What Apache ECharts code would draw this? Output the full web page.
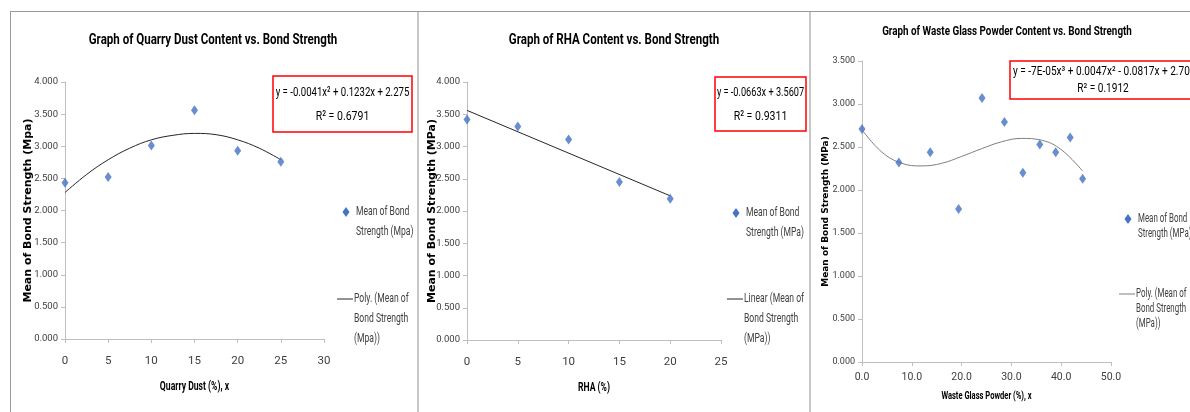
<!DOCTYPE html>
<html>
<head>
<meta charset="utf-8">
<title>Bond Strength graphs</title>
<script src="https://cdn.jsdelivr.net/npm/echarts@6/dist/echarts.min.js"></script>
<style>
    html, body { margin: 0; padding: 0; background: #ffffff; }
    #chart { width: 1190px; height: 412px; }
</style>
</head>
<body>
<div id="chart"></div>
<script>
// ============================================
// 数据
// ============================================
// 1. Quarry Dust
const qdX = [0, 5, 10, 15, 20, 25];
const qdY = [2.43, 2.52, 3.01, 3.56, 2.93, 2.76];
const qdFitX = [0, 2.5, 5, 7.5, 10, 12.5, 15, 17.5, 20, 22.5, 25];
const qdFitY = [2.28, 2.56, 2.79, 2.97, 3.10, 3.17, 3.20, 3.18, 3.10, 2.97, 2.79];

// 2. RHA
const rhaX = [0, 5, 10, 15, 20];
const rhaY = [3.42, 3.31, 3.11, 2.45, 2.19];
const rhaFitX = [0, 20];
const rhaFitY = [3.56, 2.235];

// 3. Waste Glass Powder
const wgX = [0, 7.4, 13.7, 19.4, 24.1, 28.6, 32.3, 35.7, 38.9, 41.8, 44.3];
const wgY = [2.71, 2.32, 2.44, 1.78, 3.07, 2.79, 2.20, 2.53, 2.44, 2.61, 2.13];
const wgFitX = [0, 4, 8, 12, 16, 20, 24, 28, 32, 36, 40, 44.3];
const wgFitY = [2.70, 2.44, 2.31, 2.28, 2.31, 2.39, 2.48, 2.56, 2.60, 2.58, 2.47, 2.22];

// 文字
const titles = [
    'Graph of Quarry Dust Content vs. Bond Strength',
    'Graph of RHA Content vs. Bond Strength',
    'Graph of Waste Glass Powder Content vs. Bond Strength'
];
const xNames = ['Quarry Dust (%), x', 'RHA (%)', 'Waste Glass Powder (%), x'];
const yNames = ['Mean of Bond Strength (Mpa)', 'Mean of Bond Strength (MPa)', 'Mean of Bond Strength (MPa)'];
const equations = [
    ['y = -0.0041x² + 0.1232x + 2.275', 'R² = 0.6791'],
    ['y = -0.0663x + 3.5607', 'R² = 0.9311'],
    ['y = -7E-05x³ + 0.0047x² - 0.0817x + 2.7004', 'R² = 0.1912']
];
const legendMarker = [
    ['Mean of Bond', 'Strength (Mpa)'],
    ['Mean of Bond', 'Strength (MPa)'],
    ['Mean of Bond', 'Strength (MPa)']
];
const legendLine = [
    ['Poly. (Mean of', 'Bond Strength', '(Mpa))'],
    ['Linear (Mean of', 'Bond Strength', '(MPa))'],
    ['Poly. (Mean of', 'Bond Strength', '(MPa))']
];

// ============================================
// 样式
// ============================================
const FONT = 'Roboto, "Liberation Sans", sans-serif';
const WIDE = '"DejaVu Sans", Verdana, sans-serif';
const BLUE = '#4472c4';
const AXIS_GRAY = '#bfbfbf';
const TEXT_GRAY = '#404040';

function zip(xs, ys) {
    return xs.map((x, i) => [x, ys[i]]);
}

// 每个面板的布局
const panels = [
    {
        grid: { left: 65, top: 82, width: 259, height: 257 },
        x: { max: 30, interval: 5, dec: 0, labelMargin: 16, labelSize: 11.5, nameY: 387, nameSize: 12.5 },
        y: { max: 4, nameX: 28.5, nameSize: 11, labelSize: 9.5 },
        title: { x: 213, y: 40, size: 15, sx: 0.77 },
        box: { x: 273, y: 76, w: 139, h: 56, size: 13.5, sx: 0.71, sx2: 0.78 },
        leg: { x: 346, y1: 212, y2: 299, lh: 20, size: 13, sx: 0.66 },
        lineColor: '#262626'
    },
    {
        grid: { left: 467, top: 82, width: 254, height: 258 },
        x: { max: 25, interval: 5, dec: 0, labelMargin: 16, labelSize: 11.5, nameY: 388, nameSize: 12.5 },
        y: { max: 4, nameX: 432, nameSize: 11, labelSize: 9.5 },
        title: { x: 614, y: 40, size: 15, sx: 0.77 },
        box: { x: 715, y: 77, w: 91, h: 54, size: 13.5, sx: 0.68, sx2: 0.78 },
        leg: { x: 736, y1: 213, y2: 299, lh: 20, size: 13, sx: 0.66 },
        lineColor: '#262626'
    },
    {
        grid: { left: 862, top: 61, width: 249, height: 301 },
        x: { max: 50, interval: 10, dec: 1, labelMargin: 10, labelSize: 10.5, nameY: 396, nameSize: 11 },
        y: { max: 3.5, nameX: 826, nameSize: 9, labelSize: 9 },
        title: { x: 1007, y: 32, size: 12, sx: 0.82 },
        box: { x: 1010, y: 61, w: 190, h: 38, size: 12, sx: 0.84, sx2: 0.84 },
        leg: { x: 1128, y1: 219, y2: 294, lh: 15, size: 12, sx: 0.66 },
        lineColor: '#7f7f7f'
    }
];

// 压窄的文字 (模仿 Calibri)
function narrowText(x, y, text, font, sx, align, fill, z) {
    return {
        type: 'text', x: x, y: y, scaleX: sx, z: z || 10,
        style: { text: text, font: font, fill: fill || '#000000', textAlign: align || 'left', textVerticalAlign: 'middle' }
    };
}

// ============================================
// 图形元素: 边框, 标题, 轴名称, 公式框, 图例
// ============================================
function buildGraphics() {
    const g = [];

    // 外框与分隔线
    g.push({ type: 'line', shape: { x1: 10, y1: 11.5, x2: 1190, y2: 11.5 }, style: { stroke: '#9a9a9a', lineWidth: 1 } });
    g.push({ type: 'line', shape: { x1: 10.5, y1: 11, x2: 10.5, y2: 412 }, style: { stroke: '#9a9a9a', lineWidth: 1 } });
    g.push({ type: 'rect', shape: { x: 417, y: 12, width: 2, height: 400 }, style: { fill: '#c8c8c8' } });
    g.push({ type: 'rect', shape: { x: 809, y: 12, width: 2, height: 400 }, style: { fill: '#c8c8c8' } });

    panels.forEach((p, i) => {
        // 标题
        const t = p.title;
        g.push(narrowText(t.x, t.y, titles[i], `bold ${t.size}px ${FONT}`, t.sx, 'center'));

        // 横轴名称
        const gx = p.grid.left + p.grid.width / 2;
        g.push(narrowText(gx, p.x.nameY, xNames[i], `bold ${p.x.nameSize}px ${FONT}`, 0.69, 'center'));

        // 纵轴名称 (旋转文字)
        g.push({
            type: 'text', x: p.y.nameX, y: p.grid.top + p.grid.height / 2, rotation: Math.PI / 2,
            style: {
                text: yNames[i], font: `bold ${p.y.nameSize}px ${WIDE}`, fill: '#000000',
                textAlign: 'center', textVerticalAlign: 'middle'
            }
        });

        // 公式框
        const b = p.box;
        g.push({
            type: 'rect', z: 10,
            shape: { x: b.x, y: b.y, width: b.w, height: b.h },
            style: { fill: '#ffffff', stroke: '#ff0000', lineWidth: 1.5 }
        });
        const cx = i === 2 ? 1103 : b.x + b.w / 2;
        const eqFont = `${b.size}px ${FONT}`;
        if (i === 2) {
            g.push(narrowText(b.x + 3, b.y + b.h * 0.3, equations[i][0], eqFont, b.sx, 'left', '#000000', 11));
        } else {
            g.push(narrowText(cx, b.y + b.h * 0.29, equations[i][0], eqFont, b.sx, 'center', '#000000', 11));
        }
        g.push(narrowText(cx, b.y + b.h * 0.73, equations[i][1], eqFont, b.sx2, 'center', '#000000', 11));

        // 图例: 散点
        const L = p.leg;
        const legFont = `${L.size}px ${FONT}`;
        g.push({
            type: 'polygon', z: 10,
            shape: { points: [[L.x, L.y1 - 5], [L.x + 3.5, L.y1], [L.x, L.y1 + 5], [L.x - 3.5, L.y1]] },
            style: { fill: BLUE }
        });
        legendMarker[i].forEach((s, j) => {
            g.push(narrowText(L.x + 10, L.y1 + j * L.lh, s, legFont, L.sx, 'left', TEXT_GRAY));
        });

        // 图例: 趋势线
        g.push({
            type: 'line', z: 10,
            shape: { x1: L.x - 9, y1: L.y2, x2: L.x + 7, y2: L.y2 },
            style: { stroke: p.lineColor, lineWidth: 1 }
        });
        legendLine[i].forEach((s, j) => {
            g.push(narrowText(L.x + 8, L.y2 + j * L.lh, s, legFont, L.sx, 'left', TEXT_GRAY));
        });
    });
    return g;
}

// ============================================
// 图表配置
// ============================================
function buildOption() {
    const pointSets = [zip(qdX, qdY), zip(rhaX, rhaY), zip(wgX, wgY)];
    const fitSets = [zip(qdFitX, qdFitY), zip(rhaFitX, rhaFitY), zip(wgFitX, wgFitY)];

    const option = {
        animation: false,
        backgroundColor: '#ffffff',
        grid: [], xAxis: [], yAxis: [], series: [],
        graphic: buildGraphics()
    };

    panels.forEach((p, i) => {
        option.grid.push(Object.assign({ containLabel: false }, p.grid));

        option.xAxis.push({
            type: 'value', gridIndex: i, min: 0, max: p.x.max, interval: p.x.interval,
            axisLine: { onZero: false, lineStyle: { color: AXIS_GRAY } },
            axisTick: { show: true, length: 4, lineStyle: { color: AXIS_GRAY } },
            axisLabel: {
                margin: p.x.labelMargin, fontFamily: FONT, fontSize: p.x.labelSize, color: TEXT_GRAY,
                formatter: v => v.toFixed(p.x.dec)
            },
            splitLine: { show: false }
        });
        option.yAxis.push({
            type: 'value', gridIndex: i, min: 0, max: p.y.max, interval: 0.5,
            axisLine: { show: true, onZero: false, lineStyle: { color: AXIS_GRAY } },
            axisTick: { show: true, length: 4, lineStyle: { color: AXIS_GRAY } },
            axisLabel: {
                margin: 7, fontFamily: FONT, fontSize: p.y.labelSize, color: TEXT_GRAY,
                formatter: v => v.toFixed(3)
            },
            splitLine: { show: false }
        });

        option.series.push({
            type: 'line', name: legendLine[i].join(' '), xAxisIndex: i, yAxisIndex: i,
            data: fitSets[i], smooth: i === 1 ? false : 0.4, symbol: 'none',
            lineStyle: { color: p.lineColor, width: 1 }, z: 2
        });
        option.series.push({
            type: 'scatter', name: legendMarker[i].join(' '), xAxisIndex: i, yAxisIndex: i,
            data: pointSets[i], symbol: 'diamond', symbolSize: [7, 10],
            itemStyle: { color: BLUE }, z: 3
        });
    });
    return option;
}

function init() {
    const chart = echarts.init(document.getElementById('chart'), null, { renderer: 'canvas' });
    chart.setOption(buildOption());
}

document.addEventListener('DOMContentLoaded', init);
</script>
</body>
</html>
